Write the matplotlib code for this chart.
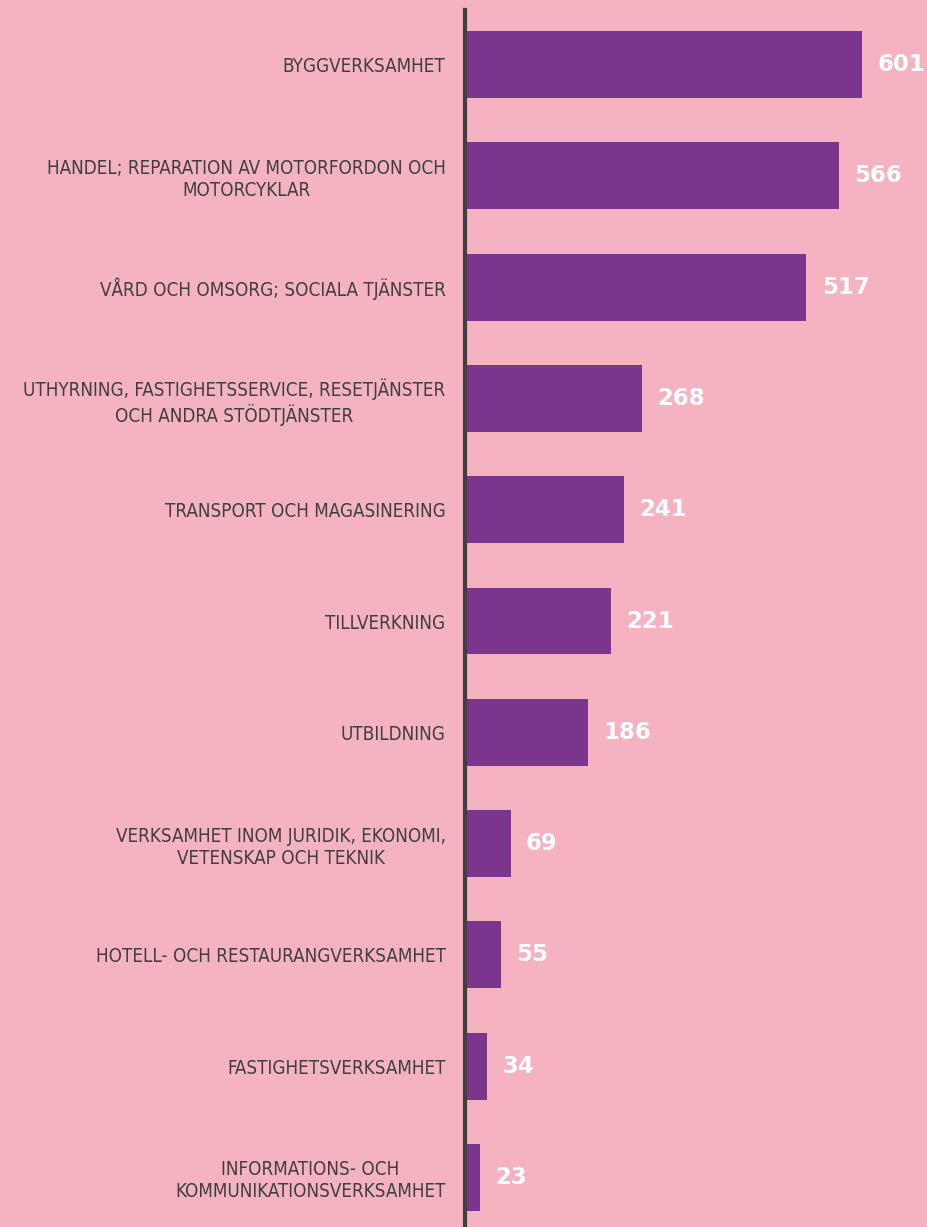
import matplotlib
matplotlib.use("Agg")
import matplotlib.pyplot as plt
from matplotlib import font_manager

categories = [
    "BYGGVERKSAMHET",
    "HANDEL; REPARATION AV MOTORFORDON OCH\nMOTORCYKLAR",
    "VÅRD OCH OMSORG; SOCIALA TJÄNSTER",
    "UTHYRNING, FASTIGHETSSERVICE, RESETJÄNSTER\nOCH ANDRA STÖDTJÄNSTER",
    "TRANSPORT OCH MAGASINERING",
    "TILLVERKNING",
    "UTBILDNING",
    "VERKSAMHET INOM JURIDIK, EKONOMI,\nVETENSKAP OCH TEKNIK",
    "HOTELL- OCH RESTAURANGVERKSAMHET",
    "FASTIGHETSVERKSAMHET",
    "INFORMATIONS- OCH\nKOMMUNIKATIONSVERKSAMHET",
]
values = [601, 566, 517, 268, 241, 221, 186, 69, 55, 34, 23]

BG = "#F5B3C1"
BAR = "#7A358C"
AXIS = "#404040"

names = {f.name for f in font_manager.fontManager.ttflist}
label_family = "Liberation Sans Narrow" if "Liberation Sans Narrow" in names else "DejaVu Sans"

W, H = 928, 1227
fig = plt.figure(figsize=(W / 100, H / 100), dpi=100, facecolor=BG)
ax = fig.add_axes([465 / W, 0, 1 - 465 / W, (H - 10) / H])
ax.set_facecolor(BG)

pos = list(range(len(categories)))
ax.barh(pos, values, height=0.6, color=BAR, zorder=2)
ax.set_xlim(0, 701)
ax.set_ylim(10.445, -0.49)

for s in ["top", "right", "bottom"]:
    ax.spines[s].set_visible(False)
ax.spines["left"].set_color(AXIS)
ax.spines["left"].set_linewidth(3)
ax.spines["left"].set_zorder(3)

ax.set_xticks([])
ax.set_yticks(pos)
ax.set_yticklabels(categories, fontsize=13.5, color="#3F3F3F",
                   family=label_family, fontstretch="condensed",
                   multialignment="center", linespacing=1.2)
for t in ax.get_yticklabels():
    t.set_va("center_baseline")
ax.tick_params(axis="y", length=0, pad=14)

for p, v in zip(pos, values):
    ax.annotate(str(v), xy=(v, p), xytext=(11, 0), textcoords="offset points",
                ha="left", va="center", color="white", fontsize=16.5,
                fontweight="bold", family="DejaVu Sans")

fig.savefig("out.png", dpi=100, facecolor=BG)
